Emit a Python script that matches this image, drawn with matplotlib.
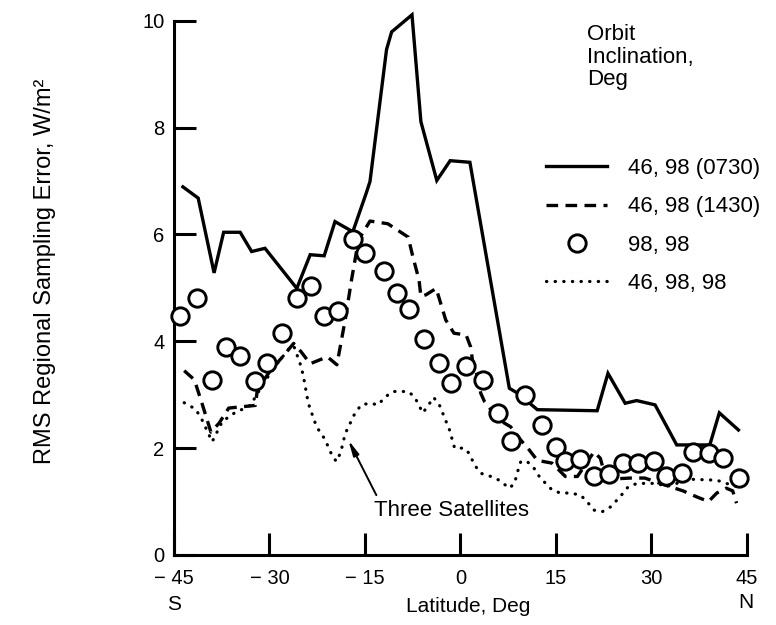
import matplotlib
matplotlib.use("Agg")
import matplotlib.pyplot as plt
from matplotlib.lines import Line2D

plt.rcParams['font.family'] = ['Liberation Sans', 'DejaVu Sans']

# ---- data ----
lat_0730 = [-43.6, -41.2, -38.7, -37.2, -34.6, -32.8, -30.7, -25.7, -23.6, -21.4,
            -19.7, -16.9, -14.8, -14.2, -11.6, -10.8, -7.6, -6.2, -3.7, -1.6,
            1.5, 7.7, 9.0, 12.1, 21.5, 23.2, 25.9, 27.7, 30.6, 34.0, 39.2, 40.7, 43.7]
val_0730 = [6.89, 6.68, 5.28, 6.04, 6.04, 5.68, 5.74, 4.99, 5.62, 5.60,
            6.24, 6.05, 6.77, 6.99, 9.46, 9.79, 10.11, 8.11, 7.01, 7.38,
            7.35, 3.12, 3.03, 2.72, 2.70, 3.40, 2.84, 2.89, 2.81, 2.06, 2.06, 2.66, 2.34]

lat_1430 = [-43.4, -41.8, -40.5, -39.2, -37.9, -36.4, -32.2, -31.9, -29.8, -28.0,
            -26.2, -25.0, -23.6, -20.9, -19.4, -18.1, -17.1, -16.0, -14.2, -11.4,
            -8.2, -7.5, -6.5, -6.2, -5.4, -3.8, -2.3, -1.0, 0.9, 1.6,
            1.9, 2.7, 3.2, 3.8, 4.8, 6.9, 7.9, 9.5, 10.8, 12.1,
            14.4, 16.5, 18.4, 21.0, 22.0, 22.6, 23.5, 26.7, 29.0, 31.4,
            35.0, 37.1, 39.0, 40.3, 41.8, 42.8, 43.4]
val_1430 = [3.45, 3.28, 2.80, 2.30, 2.47, 2.75, 2.80, 3.10, 3.46, 3.70,
            3.96, 3.80, 3.58, 3.71, 3.56, 4.40, 5.15, 5.90, 6.25, 6.20,
            5.95, 5.60, 5.15, 4.84, 4.87, 4.99, 4.40, 4.15, 4.12, 3.90,
            3.65, 3.34, 3.03, 2.87, 2.72, 2.47, 2.40, 2.15, 1.97, 1.77,
            1.72, 1.47, 1.47, 1.93, 1.81, 1.55, 1.42, 1.44, 1.44, 1.34,
            1.20, 1.09, 1.00, 1.16, 1.25, 1.20, 0.97]

lat_9898 = [-44.1, -41.4, -39.1, -36.8, -34.7, -32.3, -30.4, -28.0, -25.7, -23.5,
            -21.4, -19.3, -16.9, -15.0, -12.0, -9.9, -8.0, -5.7, -3.3, -1.5,
            0.9, 3.6, 5.9, 8.0, 10.1, 12.9, 15.1, 16.5, 18.8, 21.0,
            23.3, 25.6, 27.9, 30.5, 32.3, 34.9, 36.5, 39.0, 41.3, 43.8]
val_9898 = [4.48, 4.81, 3.28, 3.89, 3.73, 3.26, 3.60, 4.16, 4.81, 5.04,
            4.48, 4.56, 5.91, 5.65, 5.32, 4.91, 4.60, 4.04, 3.59, 3.22,
            3.54, 3.28, 2.65, 2.14, 3.00, 2.43, 2.03, 1.75, 1.79, 1.47,
            1.52, 1.72, 1.73, 1.75, 1.47, 1.53, 1.93, 1.90, 1.81, 1.44]

lat_3sat = [-43.4, -41.6, -40.6, -39.0, -37.4, -35.6, -33.0, -31.0, -29.0, -27.0,
            -26.2, -25.2, -24.7, -23.9, -22.6, -21.3, -20.3, -19.5, -18.8, -18.1,
            -16.7, -15.6, -14.2, -12.9, -11.9, -10.6, -8.2, -7.2, -5.9, -5.1,
            -4.2, -3.3, -1.7, -0.9, 0.6, 1.4, 2.2, 3.2, 4.8, 6.1,
            7.7, 8.5, 9.0, 9.5, 10.5, 11.6, 12.4, 13.4, 14.4, 15.7,
            17.3, 18.9, 19.9, 21.0, 22.3, 23.6, 25.1, 26.4, 27.8, 30.9,
            32.4, 34.0, 35.6, 40.3, 41.8, 43.5]
val_3sat = [2.85, 2.73, 2.53, 2.12, 2.50, 2.65, 2.80, 3.20, 3.55, 3.85,
            3.92, 3.59, 3.37, 2.84, 2.40, 2.17, 1.90, 1.75, 1.92, 2.27,
            2.62, 2.81, 2.84, 2.81, 2.95, 3.06, 3.06, 2.96, 2.66, 2.79,
            2.95, 2.81, 2.34, 2.00, 2.00, 1.90, 1.69, 1.53, 1.47, 1.40,
            1.25, 1.34, 1.56, 1.75, 1.75, 1.62, 1.47, 1.34, 1.22, 1.16,
            1.16, 1.12, 1.00, 0.84, 0.81, 0.90, 1.09, 1.28, 1.34, 1.34,
            1.28, 1.34, 1.42, 1.40, 1.34, 1.28]

x_ticks = [-45, -30, -15, 0, 15, 30, 45]
x_ticklabels = ["\u2212 45", "\u2212 30", "\u2212 15", "0", "15", "30", "45"]
y_ticks = [0, 2, 4, 6, 8, 10]
series_labels = ["46, 98 (0730)", "46, 98 (1430)", "98, 98", "46, 98, 98"]
legend_header = "Orbit\nInclination,\nDeg"
arrow_tip = (-17.6, 2.15)
arrow_tail = (-13.2, 1.12)
note_text = "Three Satellites"

# ---- figure ----
W, H = 776, 625
fig = plt.figure(figsize=(W / 100, H / 100), dpi=100)
ax = fig.add_axes([174 / W, 1 - 555 / H, (746.7 - 174) / W, (555 - 20.7) / H])

LW = 2.4
DASH = (0, (3.5, 2.2))
DOT = (0, (0.1, 2.6))
ax.plot(lat_0730, val_0730, color='black', lw=LW, solid_joinstyle='miter',
        zorder=3, clip_on=False)
ax.plot(lat_1430, val_1430, color='black', lw=LW, linestyle=DASH, zorder=3, clip_on=False)
ax.plot(lat_3sat, val_3sat, color='black', lw=2.3, linestyle=DOT,
        dash_capstyle='round', zorder=3, clip_on=False)
ax.plot(lat_9898, val_9898, linestyle='none', marker='o', markersize=12.5,
        markerfacecolor='white', markeredgecolor='black', markeredgewidth=2.1,
        zorder=4, clip_on=False)

ax.annotate('', xy=arrow_tip, xytext=arrow_tail,
            arrowprops=dict(arrowstyle='-|>,head_length=0.9,head_width=0.18',
                            lw=1.4, color='black', shrinkA=0, shrinkB=0))
ax.text(-13.5, 0.84, note_text, ha='left', va='center', fontsize=16)

ax.set_xlim(-45, 45)
ax.set_ylim(0, 10)
ax.set_xticks(x_ticks)
ax.set_xticklabels(x_ticklabels)
ax.set_yticks(y_ticks)
ax.tick_params(direction='in', length=16, width=2.2, labelsize=14.5)
ax.tick_params(axis='x', pad=10)
ax.tick_params(axis='y', pad=7)
for s in ('top', 'right'):
    ax.spines[s].set_visible(False)
for s in ('left', 'bottom'):
    ax.spines[s].set_linewidth(2.2)
    ax.spines[s].set_capstyle('projecting')

# legend
handles = [
    Line2D([], [], color='black', lw=LW),
    Line2D([], [], color='black', lw=LW, linestyle=DASH),
    Line2D([], [], linestyle='none', marker='o', markersize=12.5,
           markerfacecolor='white', markeredgecolor='black', markeredgewidth=2.1),
    Line2D([], [], color='black', lw=2.3, linestyle=DOT, dash_capstyle='round'),
]
ax.legend(handles, series_labels, loc='upper left',
          bbox_to_anchor=(546 / W, 1 - 158 / H), bbox_transform=fig.transFigure,
          frameon=False, fontsize=16, handlelength=2.75, handletextpad=0.95,
          labelspacing=0.78, borderpad=0, borderaxespad=0)
fig.text(587 / W, 1 - 24 / H, legend_header, ha='left', va='top', fontsize=16,
         linespacing=1.1)

# axis labels
fig.text(45 / W, 1 - 271 / H, "RMS Regional Sampling Error, W/m\u00b2", rotation=90,
         ha='center', va='center', fontsize=17)
fig.text(468 / W, 1 - 607 / H, "Latitude, Deg", ha='center', va='center', fontsize=15)
fig.text(174 / W, 1 - 604 / H, "S", ha='center', va='center', fontsize=15)
fig.text(746 / W, 1 - 603 / H, "N", ha='center', va='center', fontsize=15)

fig.savefig("out.png", dpi=100)
